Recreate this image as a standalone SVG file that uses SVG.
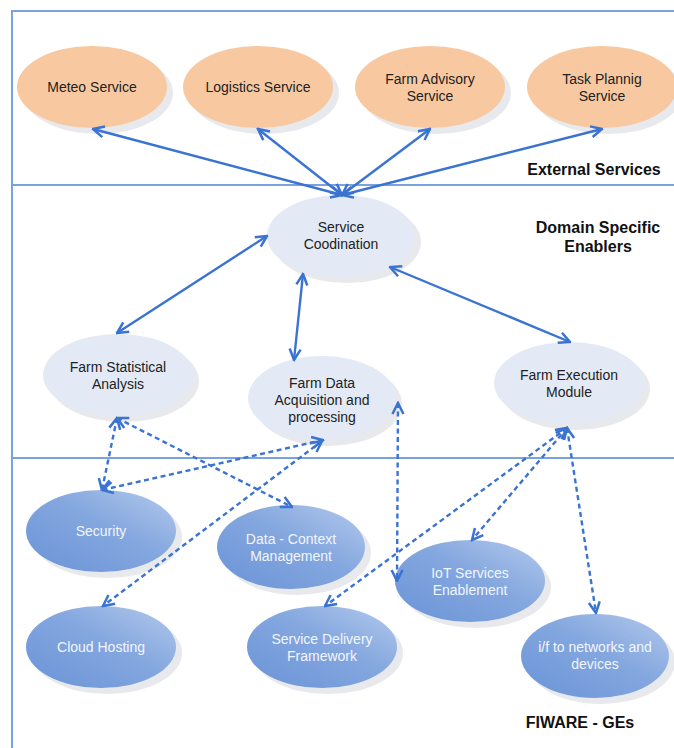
<svg xmlns="http://www.w3.org/2000/svg" width="674" height="748" viewBox="0 0 674 748">
<defs>
<marker id="ah" viewBox="0 0 14 14" refX="12.5" refY="7" markerWidth="14" markerHeight="14" markerUnits="userSpaceOnUse" orient="auto-start-reverse">
<path d="M1.5,1.5 L12.5,7 L1.5,12.5" fill="none" stroke="#3a73d2" stroke-width="2.5"/>
</marker>
<linearGradient id="blue" x1="0" y1="1" x2="1" y2="0">
<stop offset="0" stop-color="#6a93d6"/>
<stop offset="0.55" stop-color="#84a7df"/>
<stop offset="1" stop-color="#b3c9ec"/>
</linearGradient>
<style>
.frame{stroke:#7aa2df;stroke-width:2;fill:none}
.sh{fill:#e8e9ec}
.or{fill:#f8c9a0}
.lt{fill:#e3eaf6}
.bl{fill:url(#blue)}
.t{font-family:"Liberation Sans",Arial,sans-serif;font-size:14px;text-anchor:middle;fill:#222}
.w{fill:#f2f6fc}
.h{font-family:"Liberation Sans",Arial,sans-serif;font-size:16px;font-weight:bold;text-anchor:middle;fill:#111}
.c{stroke:#3a73d2;stroke-width:2.4;fill:none;marker-start:url(#ah);marker-end:url(#ah)}
.d{stroke-dasharray:5 3.5}
</style>
</defs>
<rect width="674" height="748" fill="#fff"/>
<g id="frame">
<path class="frame" d="M12,748 V11 H674"/>
<path class="frame" d="M12,185 H674"/>
<path class="frame" d="M12,458 H674"/>
<text class="h" x="594" y="175">External Services</text>
<text class="h" x="598" y="233">Domain Specific</text>
<text class="h" x="598" y="252">Enablers</text>
<text class="h" x="580" y="728">FIWARE - GEs</text>
</g>
<g id="meteo"><ellipse class="sh" cx="98" cy="93" rx="75" ry="41"/><ellipse class="or" cx="92" cy="87" rx="75" ry="41"/><text class="t" x="92" y="92">Meteo Service</text></g>
<g id="logistics"><ellipse class="sh" cx="264" cy="93" rx="75" ry="41"/><ellipse class="or" cx="258" cy="87" rx="75" ry="41"/><text class="t" x="258" y="92">Logistics Service</text></g>
<g id="advisory"><ellipse class="sh" cx="436" cy="93" rx="75" ry="41"/><ellipse class="or" cx="430" cy="87" rx="75" ry="41"/><text class="t" x="430" y="84">Farm Advisory</text><text class="t" x="430" y="101">Service</text></g>
<g id="task"><ellipse class="sh" cx="608" cy="93" rx="75" ry="41"/><ellipse class="or" cx="602" cy="87" rx="75" ry="41"/><text class="t" x="602" y="84">Task Plannig</text><text class="t" x="602" y="101">Service</text></g>
<g id="coord"><ellipse class="sh" cx="347" cy="242" rx="74" ry="41"/><ellipse class="lt" cx="341" cy="236" rx="74" ry="41"/><text class="t" x="341" y="232">Service</text><text class="t" x="341" y="249">Coodination</text></g>
<g id="stat"><ellipse class="sh" cx="124" cy="381" rx="75" ry="41"/><ellipse class="lt" cx="118" cy="375" rx="75" ry="41"/><text class="t" x="118" y="372">Farm Statistical</text><text class="t" x="118" y="389">Analysis</text></g>
<g id="acq"><ellipse class="sh" cx="328" cy="404" rx="74" ry="42"/><ellipse class="lt" cx="322" cy="398" rx="74" ry="42"/><text class="t" x="322" y="388">Farm Data</text><text class="t" x="322" y="405">Acquisition and</text><text class="t" x="322" y="422">processing</text></g>
<g id="exec"><ellipse class="sh" cx="575" cy="389" rx="75" ry="41"/><ellipse class="lt" cx="569" cy="383" rx="75" ry="41"/><text class="t" x="569" y="380">Farm Execution</text><text class="t" x="569" y="397">Module</text></g>
<g id="security"><ellipse class="sh" cx="107" cy="537" rx="75" ry="41"/><ellipse class="bl" cx="101" cy="531" rx="75" ry="41"/><text class="t w" x="101" y="536">Security</text></g>
<g id="context"><ellipse class="sh" cx="297" cy="553" rx="74" ry="42"/><ellipse class="bl" cx="291" cy="547" rx="74" ry="42"/><text class="t w" x="291" y="544">Data - Context</text><text class="t w" x="291" y="561">Management</text></g>
<g id="iot"><ellipse class="sh" cx="476" cy="587" rx="75" ry="41"/><ellipse class="bl" cx="470" cy="581" rx="75" ry="41"/><text class="t w" x="470" y="578">IoT Services</text><text class="t w" x="470" y="595">Enablement</text></g>
<g id="cloud"><ellipse class="sh" cx="107" cy="653" rx="75" ry="41"/><ellipse class="bl" cx="101" cy="647" rx="75" ry="41"/><text class="t w" x="101" y="652">Cloud Hosting</text></g>
<g id="sdf"><ellipse class="sh" cx="328" cy="653" rx="75" ry="41"/><ellipse class="bl" cx="322" cy="647" rx="75" ry="41"/><text class="t w" x="322" y="644">Service Delivery</text><text class="t w" x="322" y="661">Framework</text></g>
<g id="ifnet"><ellipse class="sh" cx="601" cy="662" rx="74" ry="42"/><ellipse class="bl" cx="595" cy="656" rx="74" ry="42"/><text class="t w" x="595" y="652">i/f to networks and</text><text class="t w" x="595" y="669">devices</text></g>
<g id="connectors">
<line class="c" x1="342" y1="195" x2="93" y2="129"/>
<line class="c" x1="342" y1="195" x2="258" y2="129"/>
<line class="c" x1="342" y1="195" x2="430" y2="129"/>
<line class="c" x1="342" y1="195" x2="602" y2="129"/>
<line class="c" x1="267" y1="236" x2="117" y2="333"/>
<line class="c" x1="303" y1="274" x2="294" y2="360"/>
<line class="c" x1="390" y1="267" x2="570" y2="342"/>
<line class="c d" x1="117" y1="418" x2="102" y2="490"/>
<line class="c d" x1="117" y1="418" x2="292" y2="507"/>
<line class="c d" x1="323" y1="440" x2="102" y2="490"/>
<line class="c d" x1="322" y1="441" x2="103" y2="606"/>
<line class="c d" x1="398" y1="403" x2="397" y2="581"/>
<line class="c d" x1="567" y1="428" x2="325" y2="606"/>
<line class="c d" x1="567" y1="428" x2="472" y2="540"/>
<line class="c d" x1="567" y1="428" x2="596" y2="613"/>
</g>
</svg>
